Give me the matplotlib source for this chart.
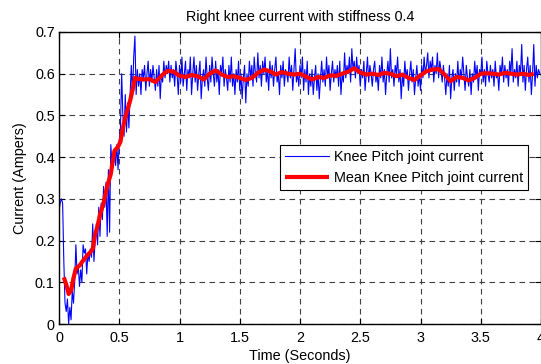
import matplotlib
matplotlib.use("Agg")
import matplotlib.pyplot as plt
import numpy as np

# raw current, sampled every 0.01 s from t = 0
current = [
    0.27, 0.29, 0.30, 0.29, 0.15, 0.05, 0.03, 0.06, 0.00, 0.04,
    0.01, 0.08, 0.05, 0.10, 0.19, 0.12, 0.14, 0.09, 0.13, 0.10,
    0.19, 0.17, 0.18, 0.12, 0.17, 0.15, 0.18, 0.16, 0.24, 0.15,
    0.20, 0.24, 0.19, 0.28, 0.21, 0.29, 0.25, 0.33, 0.28, 0.34,
    0.21, 0.37, 0.22, 0.43, 0.38, 0.40, 0.42, 0.38, 0.43, 0.37,
    0.44, 0.47, 0.60, 0.50, 0.45, 0.55, 0.46, 0.53, 0.47, 0.55,
    0.62, 0.55, 0.64, 0.69, 0.55, 0.61, 0.57, 0.60, 0.55, 0.61,
    0.59, 0.62, 0.56, 0.60, 0.63, 0.57, 0.61, 0.58, 0.62, 0.59,
    0.56, 0.61, 0.57, 0.62, 0.54, 0.60, 0.58, 0.63, 0.59, 0.62,
    0.60, 0.63, 0.58, 0.62, 0.59, 0.61, 0.57, 0.63, 0.60, 0.55,
    0.62, 0.58, 0.64, 0.57, 0.60, 0.63, 0.56, 0.61, 0.59, 0.64,
    0.55, 0.60, 0.64, 0.58, 0.62, 0.56, 0.60, 0.63, 0.54, 0.59,
    0.61, 0.57, 0.64, 0.59, 0.56, 0.62, 0.58, 0.64, 0.60, 0.57,
    0.63, 0.58, 0.61, 0.55, 0.62, 0.60, 0.64, 0.57, 0.61, 0.59,
    0.56, 0.62, 0.58, 0.64, 0.57, 0.60, 0.55, 0.61, 0.58, 0.63,
    0.56, 0.60, 0.54, 0.59, 0.62, 0.53, 0.60, 0.57, 0.63, 0.59,
    0.62, 0.57, 0.64, 0.60, 0.58, 0.65, 0.59, 0.62, 0.57, 0.63,
    0.60, 0.64, 0.58, 0.61, 0.56, 0.63, 0.59, 0.62, 0.57, 0.61,
    0.64, 0.58, 0.60, 0.55, 0.62, 0.59, 0.63, 0.57, 0.61, 0.60,
    0.58, 0.64, 0.59, 0.62, 0.56, 0.61, 0.66, 0.58, 0.60, 0.57,
    0.62, 0.59, 0.64, 0.56, 0.61, 0.58, 0.63, 0.55, 0.60, 0.57,
    0.61, 0.55, 0.59, 0.62, 0.56, 0.60, 0.54, 0.59, 0.63, 0.58,
    0.61, 0.57, 0.64, 0.59, 0.62, 0.56, 0.60, 0.63, 0.58, 0.61,
    0.59, 0.62, 0.57, 0.63, 0.55, 0.60, 0.58, 0.65, 0.59, 0.62,
    0.60, 0.64, 0.58, 0.66, 0.61, 0.63, 0.59, 0.64, 0.60, 0.62,
    0.57, 0.61, 0.59, 0.63, 0.56, 0.60, 0.64, 0.58, 0.62, 0.60,
    0.57, 0.61, 0.63, 0.58, 0.60, 0.56, 0.62, 0.59, 0.64, 0.58,
    0.61, 0.55, 0.60, 0.63, 0.58, 0.66, 0.59, 0.61, 0.57, 0.62,
    0.60, 0.64, 0.58, 0.61, 0.54, 0.60, 0.57, 0.63, 0.59, 0.61,
    0.56, 0.60, 0.63, 0.58, 0.61, 0.55, 0.59, 0.62, 0.57, 0.60,
    0.56, 0.62, 0.59, 0.64, 0.60, 0.62, 0.65, 0.59, 0.63, 0.61,
    0.64, 0.58, 0.62, 0.60, 0.65, 0.59, 0.63, 0.61, 0.58, 0.62,
    0.59, 0.55, 0.60, 0.57, 0.62, 0.54, 0.59, 0.61, 0.56, 0.60,
    0.58, 0.63, 0.57, 0.61, 0.59, 0.64, 0.60, 0.56, 0.62, 0.59,
    0.57, 0.61, 0.55, 0.60, 0.58, 0.63, 0.59, 0.62, 0.56, 0.61,
    0.60, 0.64, 0.58, 0.61, 0.57, 0.63, 0.60, 0.58, 0.62, 0.59,
    0.61, 0.57, 0.63, 0.59, 0.60, 0.56, 0.62, 0.60, 0.64, 0.58,
    0.62, 0.59, 0.61, 0.57, 0.63, 0.60, 0.66, 0.58, 0.61, 0.59,
    0.63, 0.57, 0.62, 0.60, 0.67, 0.58, 0.62, 0.56, 0.61, 0.64,
    0.58, 0.62, 0.55, 0.60, 0.67, 0.57, 0.62, 0.59, 0.61, 0.60,
]
t = np.arange(len(current)) * 0.01

# moving mean, read at irregular times
mean_t = [
    0.04, 0.06, 0.08, 0.10, 0.12, 0.14, 0.17, 0.20, 0.23, 0.26,
    0.28, 0.30, 0.32, 0.34, 0.37, 0.40, 0.43, 0.46, 0.49, 0.51,
    0.53, 0.55, 0.57, 0.59, 0.61, 0.63, 0.65, 0.70, 0.75, 0.80,
    0.85, 0.90, 0.95, 1.00, 1.05, 1.10, 1.15, 1.20, 1.25, 1.30,
    1.35, 1.40, 1.45, 1.50, 1.55, 1.60, 1.65, 1.70, 1.75, 1.80,
    1.85, 1.90, 1.95, 2.00, 2.05, 2.10, 2.15, 2.20, 2.25, 2.30,
    2.35, 2.40, 2.45, 2.50, 2.55, 2.60, 2.65, 2.70, 2.75, 2.80,
    2.85, 2.90, 2.95, 3.00, 3.05, 3.10, 3.15, 3.20, 3.25, 3.30,
    3.35, 3.40, 3.45, 3.50, 3.55, 3.60, 3.65, 3.70, 3.75, 3.80,
    3.85, 3.90, 3.94,
]
mean_v = [
    0.112, 0.095, 0.072, 0.080, 0.110, 0.133, 0.140, 0.152, 0.163, 0.172,
    0.180, 0.215, 0.235, 0.262, 0.290, 0.330, 0.360, 0.415, 0.425, 0.437,
    0.470, 0.495, 0.515, 0.535, 0.560, 0.590, 0.588, 0.586, 0.587, 0.580,
    0.595, 0.607, 0.605, 0.595, 0.592, 0.597, 0.594, 0.586, 0.600, 0.608,
    0.598, 0.592, 0.594, 0.590, 0.585, 0.590, 0.602, 0.610, 0.606, 0.598,
    0.604, 0.600, 0.598, 0.600, 0.593, 0.586, 0.592, 0.590, 0.596, 0.595,
    0.600, 0.605, 0.613, 0.603, 0.598, 0.600, 0.597, 0.602, 0.600, 0.594,
    0.598, 0.590, 0.585, 0.596, 0.606, 0.610, 0.611, 0.598, 0.582, 0.592,
    0.590, 0.584, 0.590, 0.600, 0.601, 0.600, 0.598, 0.602, 0.600, 0.598,
    0.600, 0.597, 0.600,
]

xticks = [0, 0.5, 1, 1.5, 2, 2.5, 3, 3.5, 4]
xticklabels = ["0", "0.5", "1", "1.5", "2", "2.5", "3", "3.5", "4"]
yticks = [0, 0.1, 0.2, 0.3, 0.4, 0.5, 0.6, 0.7]
yticklabels = ["0", "0.1", "0.2", "0.3", "0.4", "0.5", "0.6", "0.7"]

FS = 10.4
plt.rcParams["font.family"] = ["Liberation Sans", "DejaVu Sans"]
plt.rcParams["font.size"] = FS

fig = plt.figure(figsize=(5.41, 3.64), dpi=100)
ax = fig.add_axes([59 / 541, 1 - 324 / 364, 482 / 541, 292 / 364])

ax.plot(t, current, color="#0000ff", lw=0.8, label="Knee Pitch joint current")
ax.plot(mean_t, mean_v, color="#ff0000", lw=3, solid_capstyle="butt",
        label="Mean Knee Pitch joint current")

ax.set_xlim(0, 4)
ax.set_ylim(0, 0.7)
ax.set_xticks(xticks)
ax.set_xticklabels(xticklabels)
ax.set_yticks(yticks)
ax.set_yticklabels(yticklabels)
ax.tick_params(direction="in", length=4, width=0.8, top=True, right=True,
               colors="black", labelsize=FS)
ax.tick_params(axis="x", pad=5)
ax.tick_params(axis="y", pad=3)
ax.grid(True, color="0.25", lw=0.8, linestyle=(0, (5, 4)))
for sp in ax.spines.values():
    sp.set_linewidth(1.0)

ax.set_title("Right knee current with stiffness 0.4", fontsize=FS, pad=8)
ax.set_xlabel("Time (Seconds)", fontsize=FS, labelpad=3)
ax.set_ylabel("Current (Ampers)", fontsize=FS, labelpad=6)

leg = ax.legend(loc="upper right", bbox_to_anchor=(0.973, 0.613),
                borderaxespad=0, fancybox=False, framealpha=1,
                edgecolor="black", handlelength=3.0, handletextpad=0.35,
                fontsize=FS, borderpad=0.35, labelspacing=0.45)
leg.get_frame().set_linewidth(0.8)

fig.savefig("out.png", dpi=100)
